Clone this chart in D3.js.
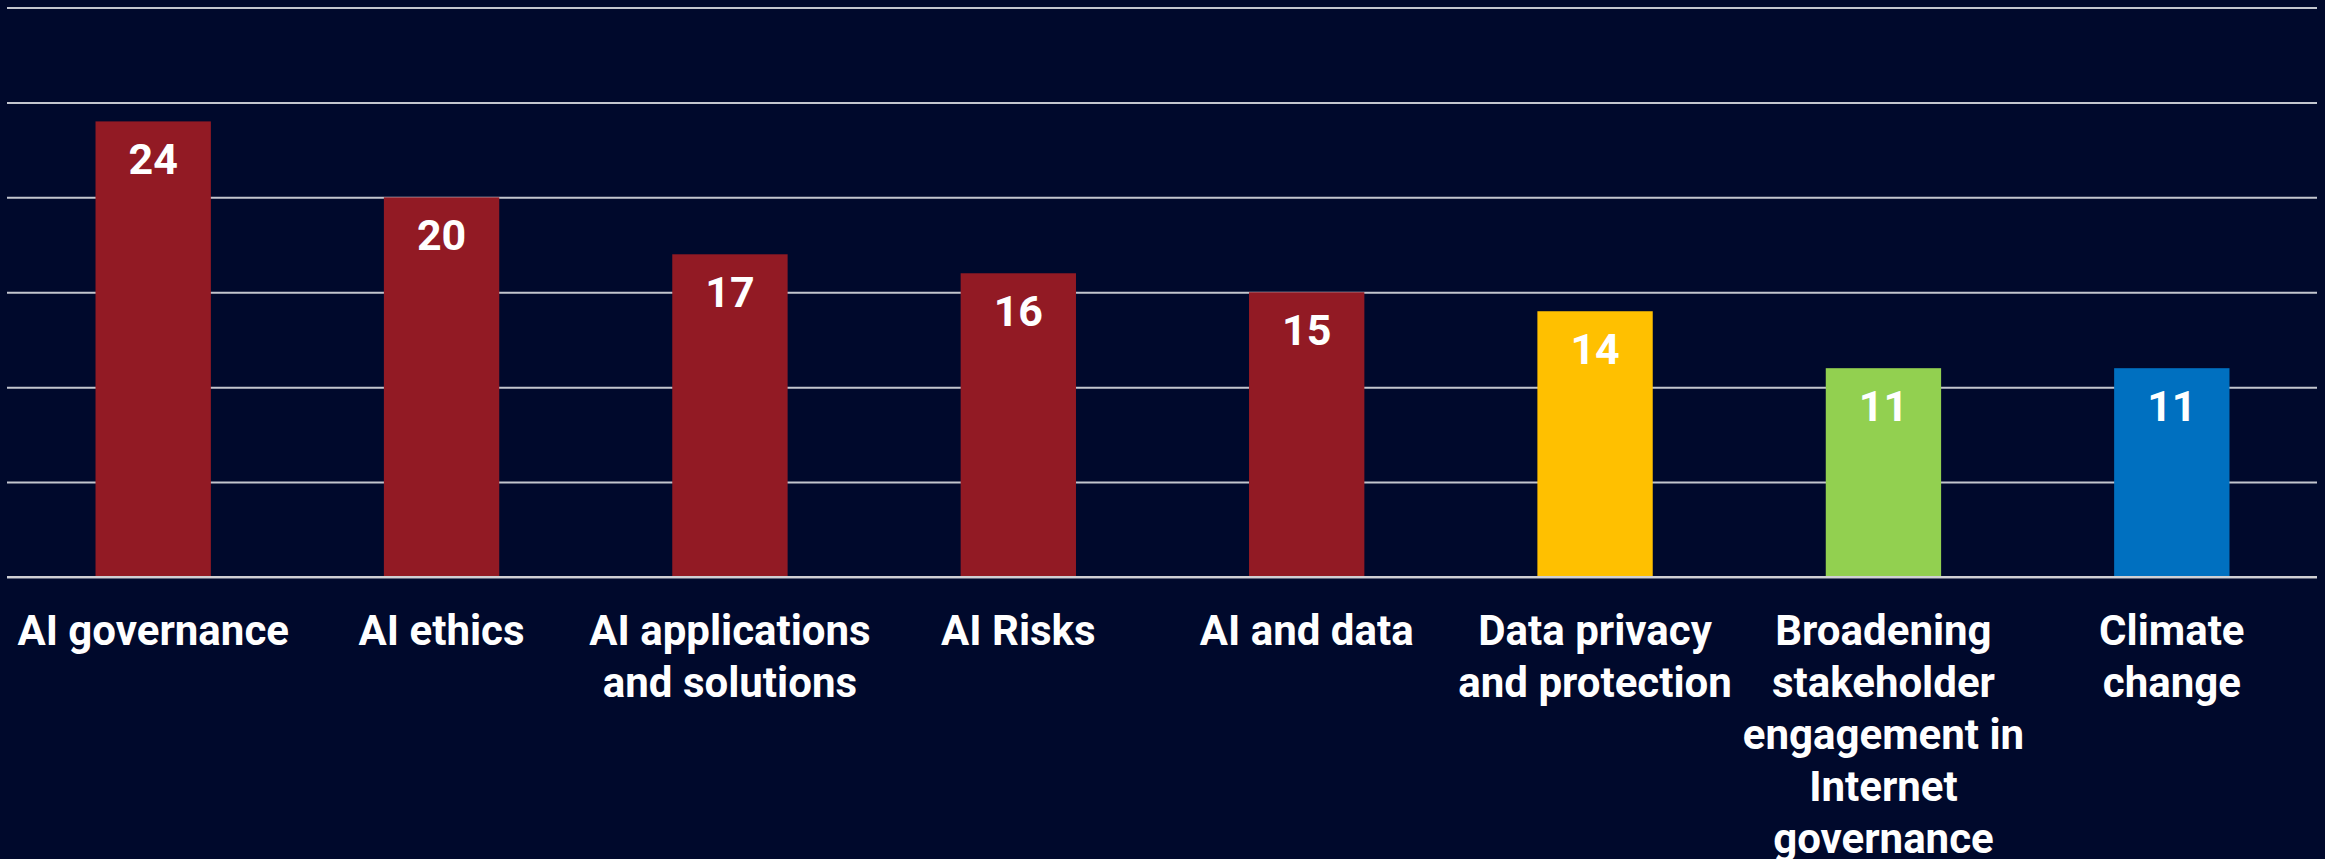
<!DOCTYPE html>
<html>
<head>
<meta charset="utf-8">
<script src="https://cdn.jsdelivr.net/npm/d3@7"></script>
<style>
  html, body { margin: 0; padding: 0; background: #00092c; }
  svg { display: block; }
</style>
</head>
<body>
<script>
// topic counts
const categories = [
  "AI governance",
  "AI ethics",
  "AI applications\nand solutions",
  "AI Risks",
  "AI and data",
  "Data privacy\nand protection",
  "Broadening\nstakeholder\nengagement in\nInternet\ngovernance",
  "Climate\nchange"
];
const values = [24, 20, 17, 16, 15, 14, 11, 11];
const barColors = ["#921a24", "#921a24", "#921a24", "#921a24", "#921a24", "#ffc000", "#92d050", "#0070c0"];
const yTicks = [0, 5, 10, 15, 20, 25, 30];

const width = 2325, height = 859;

const svg = d3.select("body")
  .append("svg")
  .attr("width", width)
  .attr("height", height);

svg.append("rect")
  .attr("width", width)
  .attr("height", height)
  .attr("fill", "#00092c");

const x = d3.scaleBand()
  .domain(categories)
  .range([9, 2316])
  .paddingInner(0.6)
  .paddingOuter(0.3);

const y = d3.scaleLinear()
  .domain([0, 30])
  .range([577, 7.5]);

// gridlines
const grid = svg.append("g")
  .attr("transform", "translate(7,0)")
  .call(d3.axisLeft(y).tickValues(yTicks).tickSize(-2310).tickFormat(""));
grid.select(".domain").remove();
grid.selectAll(".tick line")
  .attr("stroke", "#c3c6ce")
  .attr("stroke-width", 2);

const data = categories.map(function(c, i) {
  return {name: c, value: values[i], color: barColors[i]};
});

svg.selectAll(".bar")
  .data(data)
  .enter()
  .append("rect")
  .attr("class", "bar")
  .attr("x", function(d) { return x(d.name); })
  .attr("y", function(d) { return y(d.value); })
  .attr("width", x.bandwidth())
  .attr("height", function(d) { return y(0) - y(d.value); })
  .attr("fill", function(d) { return d.color; });

// redraw baseline on top of bars
svg.append("line")
  .attr("x1", 7)
  .attr("x2", 2317)
  .attr("y1", y(0))
  .attr("y2", y(0))
  .attr("stroke", "#d0d0d4")
  .attr("stroke-width", 2);

svg.selectAll(".val")
  .data(data)
  .enter()
  .append("text")
  .attr("class", "val")
  .attr("x", function(d) { return x(d.name) + x.bandwidth() / 2; })
  .attr("y", function(d) { return y(d.value) + 53; })
  .attr("text-anchor", "middle")
  .attr("font-family", "Roboto, sans-serif")
  .attr("font-weight", "bold")
  .attr("font-size", 43)
  .attr("fill", "#ffffff")
  .text(function(d) { return d.value; });

// category labels
const xAxis = svg.append("g")
  .attr("transform", "translate(0," + y(0) + ")")
  .call(d3.axisBottom(x).tickSize(0).tickFormat(""));
xAxis.select(".domain").remove();

xAxis.selectAll(".tick text").each(function(d) {
  const t = d3.select(this)
    .attr("y", 0)
    .attr("dy", null)
    .attr("fill", "#ffffff")
    .attr("font-family", "Roboto, sans-serif")
    .attr("font-weight", "bold")
    .attr("font-size", 42)
    .attr("text-anchor", "middle");
  d.split("\n").forEach(function(line, i) {
    t.append("tspan")
      .attr("x", 0)
      .attr("y", 68 + i * 52)
      .text(line);
  });
});
</script>
</body>
</html>
